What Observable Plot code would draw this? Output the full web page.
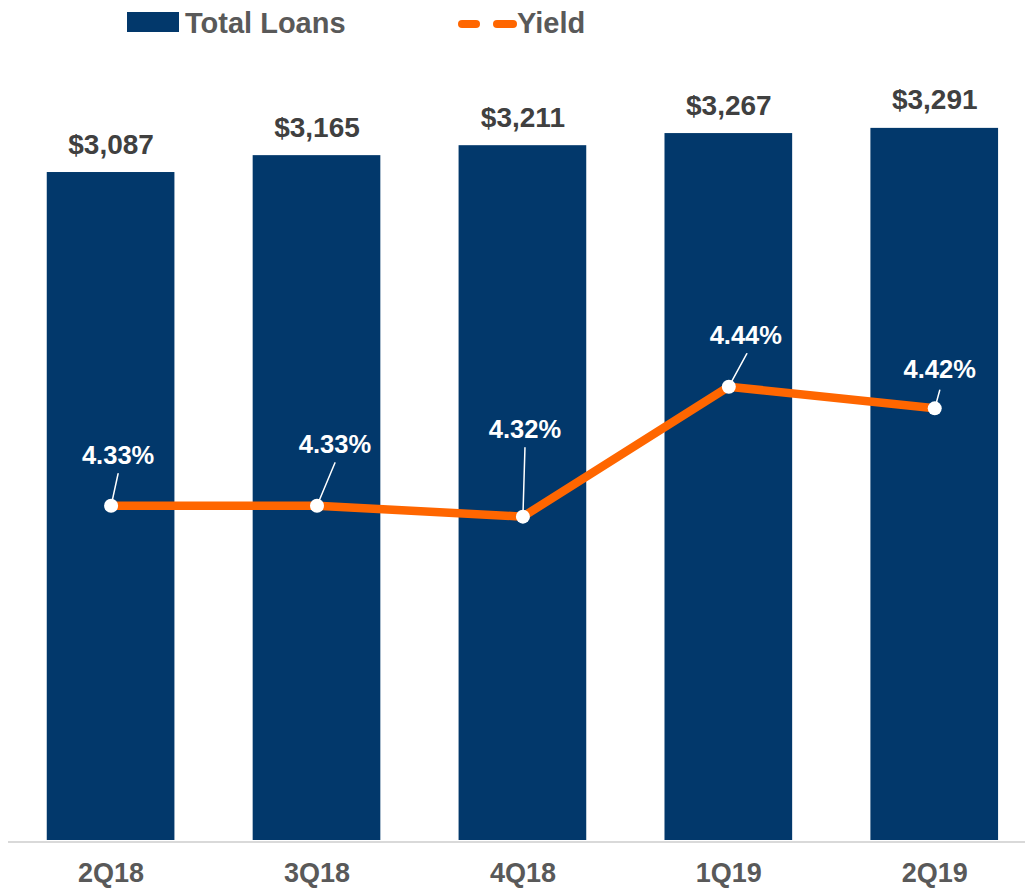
<!DOCTYPE html>
<html>
<head>
<meta charset="utf-8">
<script src="https://cdn.jsdelivr.net/npm/d3@7"></script>
<script src="https://cdn.jsdelivr.net/npm/@observablehq/plot@0.6"></script>
<style>
  html, body { margin: 0; padding: 0; background: #fff; }
  body { width: 1025px; height: 888px; overflow: hidden; font-family: "Liberation Sans", Arial, sans-serif; }
  #legend { display: block; }
</style>
</head>
<body>
<div id="legend"></div>
<div id="chart"></div>
<script>
// ---- data ----
const quarters = ["2Q18", "3Q18", "4Q18", "1Q19", "2Q19"];
const totalLoans = [3087, 3165, 3211, 3267, 3291];
const yieldPct = [4.33, 4.33, 4.32, 4.44, 4.42];
const seriesNames = ["Total Loans", "Yield"];

// ---- styling / layout ----
const NAVY = "#02386B";
const ORANGE = "#FF6600";
const FONT = "'Liberation Sans', Arial, sans-serif";

const rows = quarters.map((q, i) => ({quarter: q, loans: totalLoans[i], yield: yieldPct[i]}));
const fmtLoans = d3.format("$,");
const fmtYield = v => v.toFixed(2) + "%";

// secondary (yield) axis mapped onto the primary loans scale
const yieldToY = d3.scaleLinear([4.021, 4.755], [0, 3674]);

// label / leader placement per point (pixels)
const labelDx = [7, 18, 2, 17, 5];
const labelDy = [-42, -53, -79, -43, -30];
const leaderLen = [32.8, 46.6, 69, 37.6, 18.7];
const leaderRot = [12.3, 22.7, 1.7, 28.6, 15.5];
const leaderShape = {draw(context, l) { context.moveTo(0, 0); context.lineTo(0, -l); }};

// ---- legend ----
const ns = "http://www.w3.org/2000/svg";
const leg = d3.select("#legend").append("svg")
  .attr("xmlns", ns).attr("width", 1025).attr("height", 45)
  .style("display", "block").style("font-family", FONT);
leg.append("rect").attr("x", 127).attr("y", 12).attr("width", 52).attr("height", 20).attr("fill", NAVY);
leg.append("text").attr("x", 185).attr("y", 33).attr("font-size", 29).attr("font-weight", "bold")
  .attr("fill", "#595959").text(seriesNames[0]);
leg.append("line").attr("x1", 462).attr("x2", 476).attr("y1", 24).attr("y2", 24)
  .attr("stroke", ORANGE).attr("stroke-width", 8).attr("stroke-linecap", "round");
leg.append("line").attr("x1", 497).attr("x2", 513).attr("y1", 24).attr("y2", 24)
  .attr("stroke", ORANGE).attr("stroke-width", 8).attr("stroke-linecap", "round");
leg.append("text").attr("x", 517).attr("y", 33).attr("font-size", 29).attr("font-weight", "bold")
  .attr("fill", "#595959").text(seriesNames[1]);

// ---- chart ----
const yOf = d => yieldToY(d.yield);

const chart = Plot.plot({
  width: 1025,
  height: 843,
  marginTop: 0,
  marginBottom: 48,
  marginLeft: 8,
  marginRight: 0,
  style: {fontFamily: FONT, background: "white", overflow: "visible"},
  x: {type: "band", domain: quarters, paddingInner: 0.38, paddingOuter: 0.1595, align: 0.59, round: false, axis: null},
  y: {domain: [0, 3674], axis: null},
  marks: [
    Plot.ruleY([0], {stroke: "#d9d9d9", strokeWidth: 2, dy: 1.5}),
    Plot.barY(rows, {x: "quarter", y: "loans", fill: NAVY}),
    Plot.text(rows, {x: "quarter", y: "loans", text: d => fmtLoans(d.loans), dy: -19, lineAnchor: "bottom",
      fontSize: 28, fontWeight: "bold", fill: "#404040"}),
    Plot.text(rows, {x: "quarter", frameAnchor: "bottom", text: "quarter", dy: 41, lineAnchor: "bottom",
      fontSize: 27, fontWeight: "bold", fill: "#595959"}),
    Plot.line(rows, {x: "quarter", y: yOf, stroke: ORANGE, strokeWidth: 8.5, strokeLinejoin: "round"}),
    ...rows.map((d, i) => Plot.vector([d], {x: "quarter", y: yOf, length: leaderLen[i], rotate: leaderRot[i],
      anchor: "start", shape: leaderShape, stroke: "white", strokeWidth: 1.5})),
    Plot.dot(rows, {x: "quarter", y: yOf, r: 7, fill: "white", stroke: "none"}),
    ...rows.map((d, i) => Plot.text([d], {x: "quarter", y: yOf, text: dd => fmtYield(dd.yield),
      dx: labelDx[i], dy: labelDy[i], lineAnchor: "bottom", fontSize: 25.5, fontWeight: "bold", fill: "white"}))
  ]
});
document.getElementById("chart").appendChild(chart);
</script>
</body>
</html>
